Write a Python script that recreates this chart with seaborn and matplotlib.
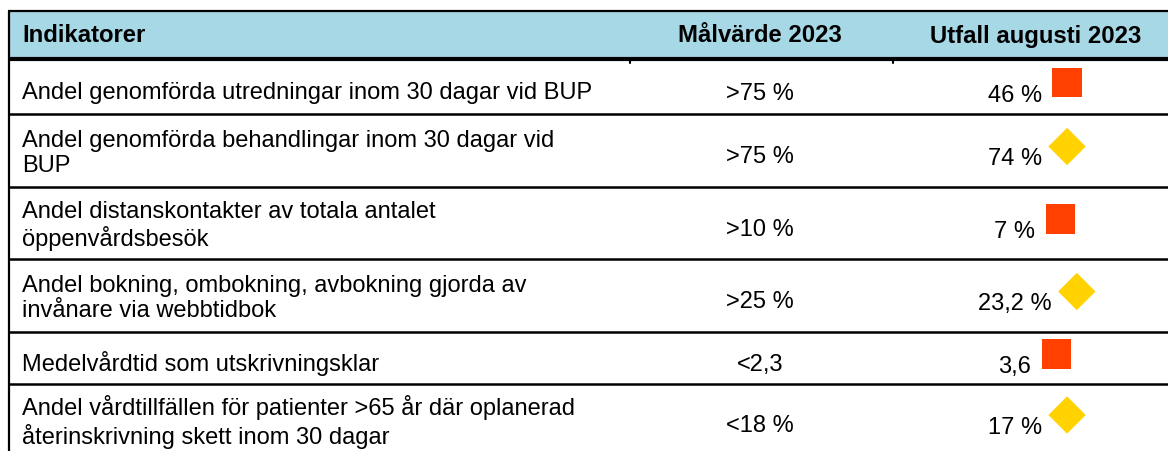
import matplotlib
matplotlib.use("Agg")
import matplotlib.pyplot as plt
import seaborn as sns
import pandas as pd

sns.set_theme(style="white")
plt.rcParams['font.family'] = ['Liberation Sans', 'DejaVu Sans']
plt.rcParams['text.color'] = 'black'

# ---- data ----
headers = ["Indikatorer", "Målvärde 2023", "Utfall augusti 2023"]
indicators = [
    "Andel genomförda utredningar inom 30 dagar vid BUP",
    "Andel genomförda behandlingar inom 30 dagar vid\nBUP",
    "Andel distanskontakter av totala antalet\nöppenvårdsbesök",
    "Andel bokning, ombokning, avbokning gjorda av\ninvånare via webbtidbok",
    "Medelvårdtid som utskrivningsklar",
    "Andel vårdtillfällen för patienter >65 år där oplanerad\nåterinskrivning skett inom 30 dagar",
]
targets = [">75 %", ">75 %", ">10 %", ">25 %", "<2,3", "<18 %"]
outcomes = ["46 %", "74 %", "7 %", "23,2 %", "3,6", "17 %"]
status = ["röd", "gul", "röd", "gul", "röd", "gul"]

# ---- layout (pixels) ----
W, H = 1168, 452
fig = plt.figure(figsize=(W / 100, H / 100), dpi=100)
ax = fig.add_axes([0, 0, 1, 1])
ax.set_xlim(0, W)
ax.set_ylim(H, 0)
ax.axis("off")

row_edges = [60, 115, 188, 260, 333, 385, 454]
header_top, header_bot = 12, 60
x_left = 9
col1_x, col2_x, col3_x = 22, 760, 1015
fs = 17.0
fs_h = 17.2

# header
ax.fill_between([x_left, W], header_top, header_bot, color="#A7D8E6", lw=0, zorder=0)
ax.plot([x_left - 1, W], [header_top, header_top], color="black", lw=1.6, solid_capstyle="butt")
ax.plot([x_left - 1, W], [header_bot, header_bot], color="black", lw=3.0, solid_capstyle="butt")
ax.plot([x_left, x_left], [header_top, H], color="black", lw=1.6, solid_capstyle="butt")
for sx in (630, 893):
    ax.plot([sx, sx], [header_bot, header_bot + 4], color="black", lw=1.5)

hy = (header_top + header_bot) / 2
ax.text(col1_x, hy, headers[0], fontsize=fs_h, fontweight="bold", va="center", ha="left", color="black")
ax.text(col2_x, hy, headers[1], fontsize=fs_h, fontweight="bold", va="center", ha="center", color="black")
ax.text(1036, hy, headers[2], fontsize=fs_h, fontweight="bold", va="center", ha="center", color="black")

# rows
for e in row_edges[1:-1]:
    ax.plot([x_left - 1, W], [e, e], color="black", lw=1.8, solid_capstyle="butt")

fig.canvas.draw()
renderer = fig.canvas.get_renderer()
inv = ax.transData.inverted()

mx, my, ms = [], [], []
for i, (ind, tg, oc, st) in enumerate(zip(indicators, targets, outcomes, status)):
    top, bot = row_edges[i], row_edges[i + 1]
    if i == len(indicators) - 1:
        cy = 420
    else:
        cy = (top + bot) / 2
    off = 5 if "\n" not in ind else 2
    ax.text(col1_x, cy + off, ind, fontsize=fs, va="center", ha="left",
            linespacing=1.16, color="black")
    ax.text(col2_x, cy + 12, tg, fontsize=fs, va="baseline", ha="center", color="black")
    t = ax.text(col3_x, cy + 14, oc, fontsize=fs, va="baseline", ha="center", color="black")
    bb = t.get_window_extent(renderer=renderer)
    right = inv.transform((bb.x1, bb.y1))[0]
    mx.append(right + 25)
    my.append(cy - 4)
    ms.append(st)

df = pd.DataFrame({"x": mx, "y": my, "status": ms})
sns.scatterplot(
    data=df, x="x", y="y", hue="status", style="status", size="status",
    palette={"röd": "#FF4000", "gul": "#FFD200"},
    markers={"röd": "s", "gul": "D"},
    sizes={"röd": 21.0 ** 2, "gul": 19.0 ** 2},
    linewidth=0, legend=False, ax=ax, zorder=5,
)
ax.set_xlim(0, W)
ax.set_ylim(H, 0)
ax.axis("off")

fig.savefig("out.png", dpi=100)
